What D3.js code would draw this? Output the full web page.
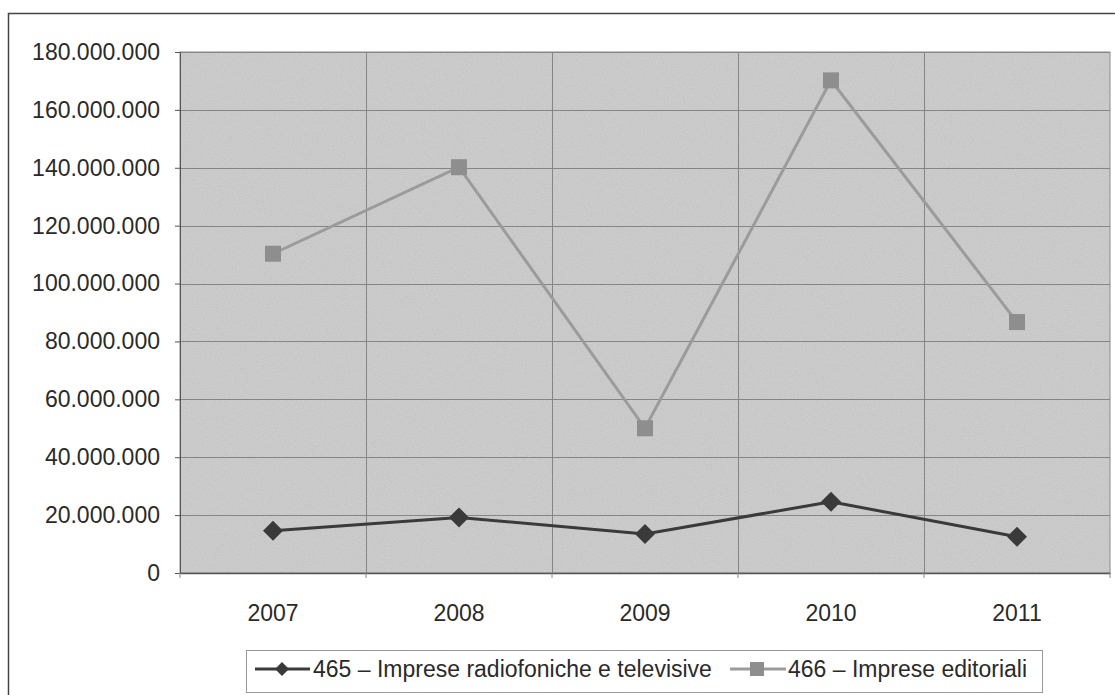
<!DOCTYPE html>
<html lang="it">
<head>
<meta charset="UTF-8">
<title>465 / 466</title>
<script src="https://d3js.org/d3.v7.min.js"></script>
<style>
    body { margin: 0; background: #fff; }
    svg { display: block; font-family: Arial, "Liberation Sans", sans-serif; }
    .tick text { fill: #2a2a2a; font-size: 23px; }
</style>
</head>
<body>
<svg width="1115" height="695"></svg>
<script>
const years = ["2007", "2008", "2009", "2010", "2011"];
const radioTv = [14600000, 19200000, 13500000, 24600000, 12500000];
const editoriali = [110300000, 140200000, 50000000, 170200000, 86700000];
const yTicks = [0, 20000000, 40000000, 60000000, 80000000, 100000000, 120000000, 140000000, 160000000, 180000000];
const legendLabels = ["465 \u2013 Imprese radiofoniche e televisive", "466 \u2013 Imprese editoriali"];

const svg = d3.select("svg");
const margin = {top: 52, right: 5, bottom: 122, left: 180};
const width = +svg.attr("width");
const height = +svg.attr("height");
const innerW = width - margin.left - margin.right;
const innerH = height - margin.top - margin.bottom;

// grain for the scanned look
const defs = svg.append("defs");
const f = defs.append("filter").attr("id", "grain").attr("x", 0).attr("y", 0).attr("width", 1).attr("height", 1);
f.append("feTurbulence").attr("type", "fractalNoise").attr("baseFrequency", 0.9).attr("numOctaves", 2).attr("seed", 3).attr("result", "n");
f.append("feColorMatrix").attr("in", "n").attr("type", "matrix")
    .attr("values", "0 0 0 0 0.8  0 0 0 0 0.8  0 0 0 0 0.8  0 0 0 -0.9 0.8").attr("result", "c");
f.append("feBlend").attr("in", "c").attr("in2", "SourceGraphic").attr("mode", "multiply");

// outer chart frame
svg.append("rect")
    .attr("x", 8.5).attr("y", 13.5)
    .attr("width", width + 10).attr("height", height + 10)
    .attr("fill", "none").attr("stroke", "#444").attr("stroke-width", 1.5);

const x = d3.scaleBand().domain(years).range([0, innerW]);
const y = d3.scaleLinear().domain([0, 180000000]).range([innerH, 0]);

const g = svg.append("g").attr("transform", `translate(${margin.left},${margin.top})`);

g.append("rect")
    .attr("width", innerW).attr("height", innerH)
    .attr("fill", "#d0d0d0").attr("filter", "url(#grain)");

// gridlines
g.selectAll(".hgrid").data(yTicks.slice(1)).enter().append("line")
    .attr("x1", 0).attr("x2", innerW)
    .attr("y1", d => Math.round(y(d)) + 0.5).attr("y2", d => Math.round(y(d)) + 0.5)
    .attr("stroke", "#858585").attr("stroke-width", 1);

const bounds = years.slice(1).map(d => x(d));
g.selectAll(".vgrid").data(bounds).enter().append("line")
    .attr("x1", d => Math.round(d) + 0.5).attr("x2", d => Math.round(d) + 0.5)
    .attr("y1", 0).attr("y2", innerH)
    .attr("stroke", "#858585").attr("stroke-width", 1);

g.append("rect")
    .attr("width", innerW).attr("height", innerH)
    .attr("fill", "none").attr("stroke", "#8a8a8a").attr("stroke-width", 1);

// axes
const fmt = d => d3.format(",")(d).replace(/,/g, ".");
const yAxis = g.append("g")
    .call(d3.axisLeft(y).tickValues(yTicks).tickFormat(fmt).tickSize(5).tickPadding(15));
yAxis.select(".domain").attr("stroke", "#555");
yAxis.selectAll(".tick line").attr("stroke", "#555");

const xAxis = g.append("g").attr("transform", `translate(0,${innerH})`)
    .call(d3.axisBottom(x).tickSize(0).tickPadding(32));
xAxis.select(".domain").attr("stroke", "#555").attr("stroke-width", 1.5);

const xTickG = g.append("g").attr("transform", `translate(0,${innerH})`);
xTickG.selectAll("line").data([0].concat(bounds, [innerW])).enter().append("line")
    .attr("x1", d => d).attr("x2", d => d).attr("y1", 0).attr("y2", 5)
    .attr("stroke", "#888");

const cx = d => x(d) + x.bandwidth() / 2;
const line = d3.line().x((v, i) => cx(years[i])).y(v => y(v));

// 466 series
g.append("path").datum(editoriali)
    .attr("d", line).attr("fill", "none")
    .attr("stroke", "#9b9b9b").attr("stroke-width", 3);
g.selectAll(".sq").data(editoriali).enter().append("rect")
    .attr("x", (v, i) => cx(years[i]) - 8).attr("y", v => y(v) - 8)
    .attr("width", 16).attr("height", 16)
    .attr("fill", "#8e8e8e");

// 465 series
g.append("path").datum(radioTv)
    .attr("d", line).attr("fill", "none")
    .attr("stroke", "#3a3a3a").attr("stroke-width", 3);
g.selectAll(".dia").data(radioTv).enter().append("path")
    .attr("transform", (v, i) => `translate(${cx(years[i])},${y(v)})`)
    .attr("d", "M0,-10 L10,0 L0,10 L-10,0 Z")
    .attr("fill", "#3a3a3a");

// legend
const lg = svg.append("g");
lg.append("rect")
    .attr("x", 246.5).attr("y", 650.5).attr("width", 796).attr("height", 42)
    .attr("fill", "#fff").attr("stroke", "#999").attr("stroke-width", 1);

const l1 = lg.append("g").attr("transform", "translate(255,677)");
l1.append("line").attr("x1", 0).attr("x2", 55).attr("y1", -8).attr("y2", -8)
    .attr("stroke", "#3a3a3a").attr("stroke-width", 3);
l1.append("path").attr("transform", "translate(27,-8)")
    .attr("d", "M0,-7 L7,0 L0,7 L-7,0 Z").attr("fill", "#3a3a3a");
l1.append("text").attr("x", 58).attr("y", 0).attr("font-size", 23).attr("fill", "#2a2a2a")
    .text(legendLabels[0]);

const l2 = lg.append("g").attr("transform", "translate(730,677)");
l2.append("line").attr("x1", 0).attr("x2", 56).attr("y1", -8).attr("y2", -8)
    .attr("stroke", "#9b9b9b").attr("stroke-width", 3);
l2.append("rect").attr("x", 20).attr("y", -15).attr("width", 14).attr("height", 14).attr("fill", "#8e8e8e");
l2.append("text").attr("x", 58).attr("y", 0).attr("font-size", 23).attr("fill", "#2a2a2a")
    .text(legendLabels[1]);
</script>
</body>
</html>
